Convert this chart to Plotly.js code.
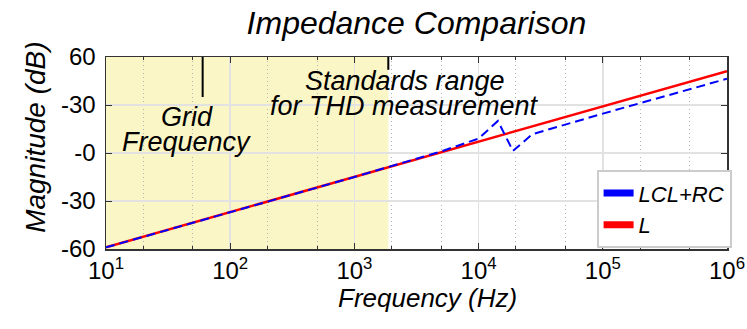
<!DOCTYPE html>
<html>
<head>
<meta charset="utf-8">
<script src="https://cdn.plot.ly/plotly-3.0.1.min.js"></script>
<style>html,body{margin:0;padding:0;background:#fff;}#chart{width:747px;height:329px;}</style>
</head>
<body>
<div id="chart"></div>
<script>
// ---- data ----
const freqL = [10, 100, 1000, 10000, 100000, 1000000];
const magL = [-59, -37, -15, 7, 29, 51.2];
const freqLCL = [10, 100, 1000, 5000, 10000, 14300, 18900, 27000, 48000, 100000, 1000000];
const magLCL = [-59, -37, -15, 1, 9, 20, 1.3, 11.7, 17.3, 24.6, 46.4];
const seriesNames = ["LCL+RC", "L"];
const xTickVals = [10, 100, 1000, 10000, 100000, 1000000];
const xTickText = ["10<sup>1</sup>", "10<sup>2</sup>", "10<sup>3</sup>", "10<sup>4</sup>", "10<sup>5</sup>", "10<sup>6</sup>"];
const yTickVals = [-60, -30, 0, 30, 60];
const yTickText = ["-60", "-30", "-0", "-30", "60"];
const shadedBand = [10, 1875];      // Hz, standards range
const gridFreq = 60;                // Hz
const gridMarkTop = [60, 35];       // dB extent of grid-frequency marker
const bandMarkTop = [60, 52];       // dB extent of band-edge marker

const F = 'Liberation Sans, Arial, sans-serif';

const traces = [
  {x: freqL, y: magL, mode: 'lines', line: {color: '#ff0000', width: 2.5}, showlegend: false, name: seriesNames[1]},
  {x: freqLCL, y: magLCL, mode: 'lines', line: {color: '#0000ff', width: 2, dash: '9px,5px'}, showlegend: false, name: seriesNames[0]},
  // legend entries (solid bars as in reference)
  {x: [null], y: [null], mode: 'lines', line: {color: '#0000ff', width: 7}, name: seriesNames[0]},
  {x: [null], y: [null], mode: 'lines', line: {color: '#ff0000', width: 7}, name: seriesNames[1]}
];

function txt(t, x, y, size, extra) {
  return Object.assign({text: '<i>' + t + '</i>', xref: 'paper', yref: 'paper', x: x, y: y,
    xanchor: 'center', yanchor: 'middle', showarrow: false,
    font: {family: F, size: size, color: '#000'}}, extra || {});
}

const layout = {
  width: 747, height: 329,
  margin: {l: 106, r: 20, t: 56.5, b: 80},
  paper_bgcolor: '#ffffff', plot_bgcolor: '#ffffff',
  font: {family: F, color: '#000', size: 24},
  title: {text: '<i>Impedance Comparison</i>', font: {family: F, size: 32, color: '#000'},
          x: 0.5575, xanchor: 'center', y: 0.93, yanchor: 'middle'},
  xaxis: {
    type: 'log', range: [1, 6],
    tickvals: xTickVals, ticktext: xTickText,
    ticks: 'inside', ticklen: 6, tickcolor: '#333', tickwidth: 1,
    showline: true, linecolor: '#333', linewidth: 1.5, mirror: 'ticks',
    showgrid: true, gridcolor: '#e2e2e2', gridwidth: 1.5,
    minor: {ticks: 'inside', ticklen: 3, tickcolor: '#333', showgrid: true, gridcolor: '#b4b4b4', griddash: '1px,3px', gridwidth: 1},
    tickfont: {size: 24, family: F},
    zeroline: false
  },
  yaxis: {
    range: [-60, 60],
    tickvals: yTickVals, ticktext: yTickText,
    ticks: 'inside', ticklen: 6, tickcolor: '#333', tickwidth: 1,
    showline: true, linecolor: '#333', linewidth: 1.5, mirror: 'ticks',
    showgrid: true, gridcolor: '#e2e2e2', gridwidth: 1.5,
    tickfont: {size: 24, family: F},
    ticklabelstandoff: 4,
    zeroline: false
  },
  legend: {
    x: 0.79, y: 0.41, xanchor: 'left', yanchor: 'top',
    bgcolor: '#ffffff', bordercolor: '#cccccc', borderwidth: 2,
    font: {family: F, size: 22, style: 'italic'},
    itemwidth: 30, tracegroupgap: 0
  },
  shapes: [
    {type: 'rect', xref: 'x', yref: 'y', x0: shadedBand[0], x1: shadedBand[1], y0: -60, y1: 60,
     fillcolor: '#fbf6c5', line: {width: 0}, layer: 'below'},
    {type: 'line', xref: 'x', yref: 'y', x0: gridFreq, x1: gridFreq, y0: gridMarkTop[0], y1: gridMarkTop[1],
     line: {color: '#000', width: 2}},
    {type: 'line', xref: 'x', yref: 'y', x0: shadedBand[1], x1: shadedBand[1], y0: bandMarkTop[0], y1: bandMarkTop[1],
     line: {color: '#000', width: 2}}
  ],
  annotations: [
    txt('Grid', 0.130, (249 - 117) / 192.5, 27),
    txt('Frequency', 0.130, (249 - 142) / 192.5, 27),
    txt('Standards range', 0.481, (249 - 81) / 192.5, 27),
    txt('for THD measurement', 0.481, (249 - 106) / 192.5, 27),
    txt('Frequency (Hz)', 0.517, -0.255, 26),
    txt('Magnitude (dB)', -0.114, 0.58, 28, {textangle: -90})
  ]
};

Plotly.newPlot('chart', traces, layout, {displayModeBar: false, staticPlot: true});
</script>
</body>
</html>
